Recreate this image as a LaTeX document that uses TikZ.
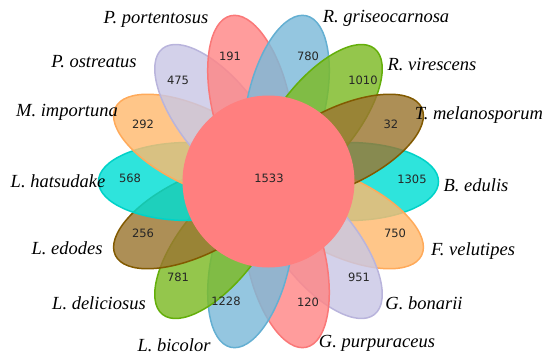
\documentclass[tikz,border=0pt]{standalone}
\usepackage{fontspec}
\setmainfont{Liberation Serif}
\newfontfamily\numfont{DejaVu Sans}
\definecolor{cyfill}{RGB}{0,222,212}
\definecolor{cyline}{RGB}{0,210,200}
\definecolor{orfill}{RGB}{255,186,111}
\definecolor{orline}{RGB}{255,170,90}
\definecolor{lvfill}{RGB}{201,199,229}
\definecolor{lvline}{RGB}{185,180,220}
\definecolor{pkfill}{RGB}{255,134,134}
\definecolor{pkline}{RGB}{250,120,120}
\definecolor{blfill}{RGB}{124,186,217}
\definecolor{blline}{RGB}{100,175,210}
\definecolor{grfill}{RGB}{124,186,36}
\definecolor{grline}{RGB}{100,175,10}
\definecolor{brfill}{RGB}{155,118,49}
\definecolor{brline}{RGB}{130,90,0}
\definecolor{corefill}{RGB}{255,127,127}
\tikzset{
  petal/.style={fill=#1fill, draw=#1line, fill opacity=0.82, draw opacity=1, line width=1.5pt},
  count/.style={font=\numfont\fontsize{11.5}{13}\selectfont, text=black!85},
  species/.style={font=\itshape\fontsize{18.5}{21}\selectfont}
}

\begin{document}
\begin{tikzpicture}[x=1pt,y=1pt]
\useasboundingbox (0,0) rectangle (550,360);
\coordinate (C) at (268.5,178.5);
% petals, drawn clockwise from the right
\foreach \col [count=\i from 0] in {cy,or,lv,pk,bl,gr,br,cy,or,lv,pk,bl,gr,br} {
\draw[petal=\col, shift={(C)}, rotate=-\i*360/14] (80,0) ellipse [x radius=90pt, y radius=39pt];
}
\fill[corefill] (C) circle [radius=86pt];
\node[count] (core) at (269,360-178) {1533};
% counts in the petals
\foreach \x/\y/\num [count=\i] in {230/56/191, 308/56/780, 363/80/1010, 391/124/32,
  412/179/1305, 395/233/750, 359/277/951, 308/302/120, 226/301/1228, 178/277/781,
  143/233/256, 130/178/568, 143/124/292, 178/80/475} {
\node[count] (n\i) at (\x,360-\y) {\num};
}
% species names
\foreach \x/\y/\name [count=\i] in {156/19/P. portentosus, 386/18/R. griseocarnosa,
  432/65/R. virescens, 479/115/T. melanosporum, 476/185/B. edulis, 473/251/F. velutipes,
  424/303/G. bonarii, 377/343/G. purpuraceus, 174/345/L. bicolor, 99/303/L. deliciosus,
  67/248/L. edodes, 58/181/L. hatsudake, 67/112/M. importuna, 94/62/P. ostreatus} {
\node[species] (s\i) at (\x,360-\y) {\name};
}
\end{tikzpicture}
\end{document}
